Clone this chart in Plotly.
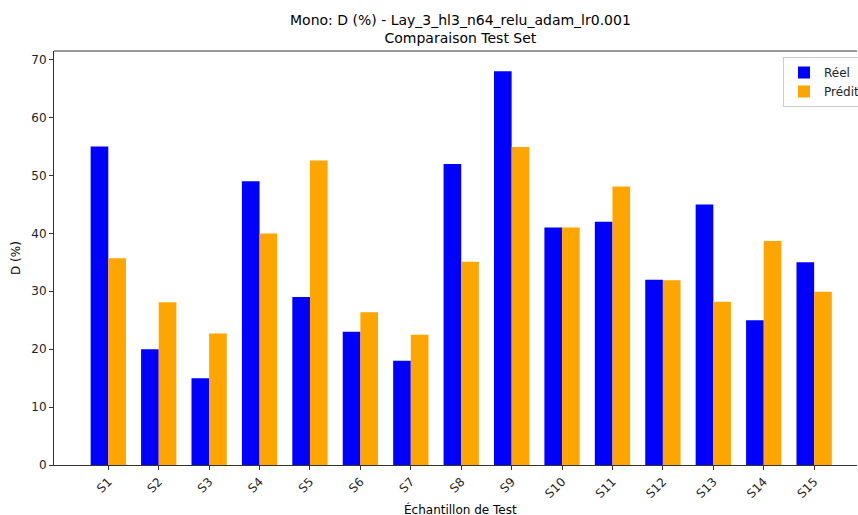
import plotly.graph_objects as go

samples = ["S1", "S2", "S3", "S4", "S5", "S6", "S7", "S8", "S9", "S10", "S11", "S12", "S13", "S14", "S15"]
reel = [55, 20, 15, 49, 29, 23, 18, 52, 68, 41, 42, 32, 45, 25, 35]
predit = [35.7, 28.1, 22.7, 40.0, 52.6, 26.4, 22.5, 35.1, 54.9, 41.0, 48.1, 31.9, 28.2, 38.7, 29.9]
y_ticks = [0, 10, 20, 30, 40, 50, 60, 70]

font = "DejaVu Sans"
fig = go.Figure()
fig.add_trace(go.Bar(x=samples, y=reel, name="Réel", marker=dict(color="#0000ff", line=dict(width=0))))
fig.add_trace(go.Bar(x=samples, y=predit, name="Prédit", marker=dict(color="#ffa500", line=dict(width=0))))

W, H = 858, 515
L, R, T, B = 54, 1, 51, 50
plot_w = W - L - R
plot_h = H - T - B
cx = (460 - L) / plot_w

fig.update_layout(
    width=W, height=H,
    margin=dict(l=L, r=R, t=T, b=B, autoexpand=False),
    plot_bgcolor="white", paper_bgcolor="white",
    barmode="group", bargap=0.3, bargroupgap=0,
    font=dict(family=font, size=12, color="#222"),
    showlegend=True,
    legend=dict(x=(783 - L) / plot_w, y=(465 - 57) / plot_h, xanchor="left", yanchor="top",
                bgcolor="rgba(255,255,255,0.8)", bordercolor="#cccccc", borderwidth=1,
                font=dict(size=12, family=font), tracegroupgap=0),
    xaxis=dict(range=[-1.077, 14.85], tickangle=-45, showline=True, linecolor="#333",
               mirror=False, ticks="outside", ticklen=4, tickcolor="#333", automargin=False,
               showgrid=False, zeroline=False, tickfont=dict(size=12, family=font)),
    yaxis=dict(range=[0, 71.5], tickvals=y_ticks, showline=True, linecolor="#333",
               ticks="outside", ticklen=4, tickcolor="#333", showgrid=False, automargin=False,
               zeroline=False, tickfont=dict(size=12, family=font)),
    annotations=[
        dict(text="Mono: D (%) - Lay_3_hl3_n64_relu_adam_lr0.001<br>Comparaison Test Set",
             xref="paper", yref="paper", x=cx, y=1, yshift=3, xanchor="center", yanchor="bottom",
             showarrow=False, font=dict(size=14, family=font, color="black")),
        dict(text="Échantillon de Test", xref="paper", yref="paper", x=cx, y=0, yshift=-36,
             xanchor="center", yanchor="top", showarrow=False, borderpad=0,
             font=dict(size=12, family=font, color="black")),
        dict(text="D (%)", xref="paper", yref="paper", x=0, xshift=-38, y=0.5,
             textangle=-90, xanchor="center", yanchor="middle", showarrow=False,
             font=dict(size=12, family=font, color="black")),
    ],
    shapes=[dict(type="line", xref="paper", yref="paper", x0=0, x1=1, y0=1, y1=1,
                 line=dict(color="#333", width=1))],
)

fig.write_html("out.html", config={"displayModeBar": False},
               post_script="document.body.style.margin='0';document.body.style.overflow='hidden';")
